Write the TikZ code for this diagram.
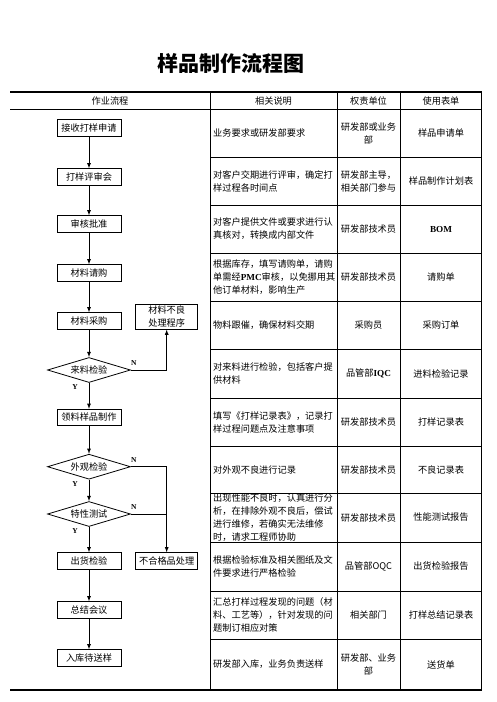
\documentclass[tikz,border=0pt]{standalone}
\usepackage{fontspec}
\setmainfont{Noto Sans CJK SC}
\newfontfamily\lat{Liberation Serif}
\usetikzlibrary{shapes.geometric}
\usetikzlibrary{arrows}

\newcommand{\txt}{\fontsize{9.2}{13}\selectfont}
\newcommand{\code}[1]{{\lat\bfseries #1}}

\tikzset{
  flowbox/.style={draw, line width=0.8pt, minimum width=64pt, minimum height=16.5pt, inner sep=1pt, font=\txt},
  checkbox/.style={draw, diamond, aspect=3.3, line width=0.8pt, minimum width=83pt, minimum height=25pt, inner sep=0pt, font=\txt},
  desc/.style={anchor=west, align=left, inner sep=0pt, font=\txt},
  cell/.style={align=center, inner sep=0pt, font=\txt},
  yn/.style={inner sep=0pt, font=\fontsize{7.5}{8}\selectfont\lat\bfseries},
  rule/.style={line width=0.8pt},
  outline/.style={line width=1.7pt}
}

\begin{document}
\begin{tikzpicture}[x=1pt, y=-1pt, >=latex]
\useasboundingbox (0,0) rectangle (496,702);

% title
\node (title) at (231,63) {\fontsize{21}{25}\selectfont\bfseries 样品制作流程图};

% table
\draw[outline] (10,92) -- (481.5,92) -- (481.5,690) -- (10,690);
\draw[rule] (10,109) -- (481.5,109);
\draw[rule] (210,157) -- (481.5,157);
\draw[rule] (210,205) -- (481.5,205);
\draw[rule] (210,253) -- (481.5,253);
\draw[rule] (210,301) -- (481.5,301);
\draw[rule] (210,349) -- (481.5,349);
\draw[rule] (210,398) -- (481.5,398);
\draw[rule] (210,446) -- (481.5,446);
\draw[rule] (210,493) -- (481.5,493);
\draw[rule] (210,542) -- (481.5,542);
\draw[rule] (210,591) -- (481.5,591);
\draw[rule] (210,639) -- (481.5,639);
\draw[rule] (210,92) -- (210,690);
\draw[rule] (337,92) -- (337,690);
\draw[rule] (400,92) -- (400,690);

% header
\node[cell] (h1) at (110,101) {作业流程};
\node[cell] (h2) at (273.5,101) {相关说明};
\node[cell] (h3) at (368.5,101) {权责单位};
\node[cell] (h4) at (441,101) {使用表单};

% rows
\node[desc] (s1) at (213,133) {业务要求或研发部要求};
\node[cell] (u1) at (368.5,133) {研发部或业务\\部};
\node[cell] (f1) at (441,133) {样品申请单};

\node[desc] (s2) at (213,181) {对客户交期进行评审，确定打\\样过程各时间点};
\node[cell] (u2) at (368.5,181) {研发部主导，\\相关部门参与};
\node[cell] (f2) at (441,181) {样品制作计划表};

\node[desc] (s3) at (213,229) {对客户提供文件或要求进行认\\真核对，转换成内部文件};
\node[cell] (u3) at (368.5,229) {研发部技术员};
\node[cell] (f3) at (441,229) {\code{BOM}};

\node[desc] (s4) at (213,277) {根据库存，填写请购单，请购\\单需经\code{PMC}审核，以免挪用其\\他订单材料，影响生产};
\node[cell] (u4) at (368.5,277) {研发部技术员};
\node[cell] (f4) at (441,277) {请购单};

\node[desc] (s5) at (213,325) {物料跟催，确保材料交期};
\node[cell] (u5) at (368.5,325) {采购员};
\node[cell] (f5) at (441,325) {采购订单};

\node[desc] (s6) at (213,373.5) {对来料进行检验，包括客户提\\供材料};
\node[cell] (u6) at (368.5,373.5) {品管部\code{IQC}};
\node[cell] (f6) at (441,373.5) {进料检验记录};

\node[desc] (s7) at (213,422) {填写《打样记录表》，记录打\\样过程问题点及注意事项};
\node[cell] (u7) at (368.5,422) {研发部技术员};
\node[cell] (f7) at (441,422) {打样记录表};

\node[desc] (s8) at (213,469.5) {对外观不良进行记录};
\node[cell] (u8) at (368.5,469.5) {研发部技术员};
\node[cell] (f8) at (441,469.5) {不良记录表};

\node[desc] (s9) at (213,517.5) {出现性能不良时，认真进行分\\析，在排除外观不良后，偿试\\进行维修，若确实无法维修\\时，请求工程师协助};
\node[cell] (u9) at (368.5,517.5) {研发部技术员};
\node[cell] (f9) at (441,517.5) {性能测试报告};

\node[desc] (s10) at (213,566.5) {根据检验标准及相关图纸及文\\件要求进行严格检验};
\node[cell] (u10) at (368.5,566.5) {品管部OQC};
\node[cell] (f10) at (441,566.5) {出货检验报告};

\node[desc] (s11) at (213,615) {汇总打样过程发现的问题（材\\料、工艺等），针对发现的问\\题制订相应对策};
\node[cell] (u11) at (368.5,615) {相关部门};
\node[cell] (f11) at (441,615) {打样总结记录表};

\node[desc] (s12) at (213,664.5) {研发部入库，业务负责送样};
\node[cell] (u12) at (368.5,664.5) {研发部、业务\\部};
\node[cell] (f12) at (441,664.5) {送货单};

% flow
\node[flowbox] (apply) at (89,128) {接收打样申请};
\node[flowbox] (review) at (89,177) {打样评审会};
\node[flowbox] (approve) at (89,224) {审核批准};
\node[flowbox] (request) at (89,273) {材料请购};
\node[flowbox] (purchase) at (89,321) {材料采购};
\node[checkbox] (incoming) at (89,370) {来料检验};
\node[flowbox, minimum width=62pt, minimum height=25pt, align=center] (badmat) at (166.7,316.7) {材料不良\\处理程序};
\node[flowbox] (make) at (89,417.5) {领料样品制作};
\node[checkbox] (visual) at (89,466.7) {外观检验};
\node[checkbox] (perform) at (89,514) {特性测试};
\node[flowbox] (ship) at (89,561) {出货检验};
\node[flowbox, minimum width=62pt] (reject) at (166.7,561) {不合格品处理};
\node[flowbox] (meeting) at (89,610) {总结会议};
\node[flowbox] (store) at (89,658) {入库待送样};
\coordinate (join) at (perform.east -| reject.north);

\draw[->, rule] (apply) -- (review);
\draw[->, rule] (review) -- (approve);
\draw[->, rule] (approve) -- (request);
\draw[->, rule] (request) -- (purchase);
\draw[->, rule] (purchase) -- (incoming);
\draw[->, rule] (incoming) -- (make);
\draw[->, rule] (incoming.east) -| (badmat.south);
\draw[->, rule] (make) -- (visual);
\draw[->, rule] (visual) -- (perform);
\draw[->, rule] (visual.east) -| (reject.north);
\draw[rule] (perform.east) -- (join);
\draw[->, rule] (perform) -- (ship);
\draw[->, rule] (ship) -- (meeting);
\draw[->, rule] (meeting) -- (store);

\node[yn] (n1) at ([xshift=3pt, yshift=7pt]incoming.east) {N};
\node[yn] (y1) at ([xshift=-14pt, yshift=-4.5pt]incoming.south) {Y};
\node[yn] (n2) at ([xshift=3pt, yshift=7pt]visual.east) {N};
\node[yn] (y2) at ([xshift=-14pt, yshift=-4.5pt]visual.south) {Y};
\node[yn] (n3) at ([xshift=3pt, yshift=7pt]perform.east) {N};
\node[yn] (y3) at ([xshift=-14pt, yshift=-4.5pt]perform.south) {Y};
\end{tikzpicture}
\end{document}
